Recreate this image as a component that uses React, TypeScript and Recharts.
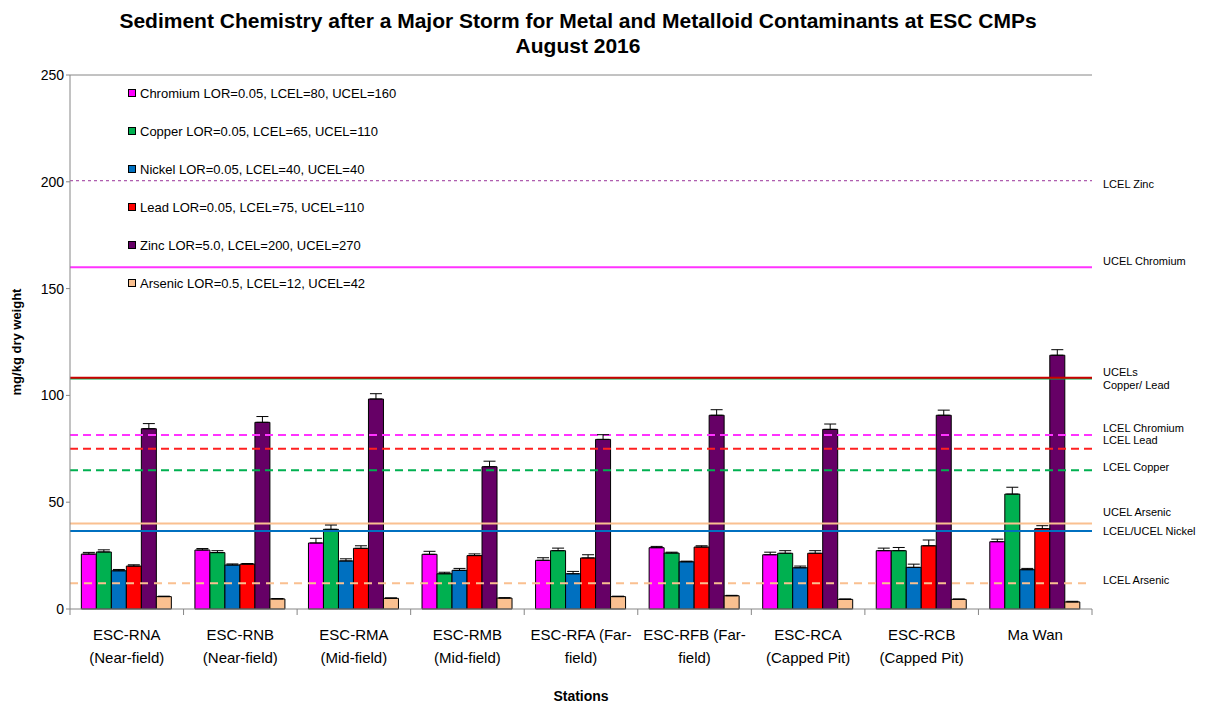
import React from 'react';
import {
  BarChart,
  Bar,
  XAxis,
  YAxis,
  ErrorBar,
  ReferenceLine,
} from 'recharts';

const stations = [
  ['ESC-RNA', '(Near-field)'],
  ['ESC-RNB', '(Near-field)'],
  ['ESC-RMA', '(Mid-field)'],
  ['ESC-RMB', '(Mid-field)'],
  ['ESC-RFA (Far-', 'field)'],
  ['ESC-RFB (Far-', 'field)'],
  ['ESC-RCA', '(Capped Pit)'],
  ['ESC-RCB', '(Capped Pit)'],
  ['Ma Wan'],
];

const chromium = [25.7, 27.6, 30.9, 25.6, 22.8, 28.7, 25.4, 27.3, 31.5];
const copper = [26.7, 26.4, 37.3, 16.5, 27.3, 26.2, 26.1, 27.3, 53.8];
const nickel = [17.9, 20.6, 22.5, 18.1, 16.5, 22.1, 19.3, 19.5, 18.4];
const lead = [20.1, 21.0, 28.4, 25.0, 23.9, 29.0, 26.1, 29.6, 37.6];
const zinc = [84.4, 87.4, 98.3, 66.6, 79.4, 90.7, 84.1, 90.7, 118.8];
const arsenic = [5.8, 4.7, 5.0, 5.1, 5.8, 6.2, 4.5, 4.5, 3.3];

const chromiumErr = [0.8, 0.7, 2.2, 1.4, 1.2, 0.6, 1.2, 1.2, 1.2];
const copperErr = [1.0, 0.9, 2.0, 0.7, 1.2, 0.4, 1.2, 1.5, 3.2];
const nickelErr = [0.6, 0.5, 1.0, 0.9, 1.1, 0.3, 0.8, 1.5, 0.6];
const leadErr = [0.6, 0.3, 1.2, 0.8, 1.5, 0.6, 1.2, 2.7, 1.4];
const zincErr = [2.4, 2.7, 2.5, 2.6, 2.2, 2.6, 2.5, 2.4, 2.6];
const arsenicErr = [0.2, 0.2, 0.2, 0.2, 0.2, 0.2, 0.2, 0.2, 0.3];

const yTicks = [0, 50, 100, 150, 200, 250];

const series = [
  { key: 'cr', name: 'Chromium LOR=0.05, LCEL=80, UCEL=160', color: '#FF00FF', values: chromium, err: chromiumErr },
  { key: 'cu', name: 'Copper LOR=0.05, LCEL=65, UCEL=110', color: '#00B050', values: copper, err: copperErr },
  { key: 'ni', name: 'Nickel LOR=0.05, LCEL=40, UCEL=40', color: '#0070C0', values: nickel, err: nickelErr },
  { key: 'pb', name: 'Lead LOR=0.05, LCEL=75, UCEL=110', color: '#FF0000', values: lead, err: leadErr },
  { key: 'zn', name: 'Zinc LOR=5.0, LCEL=200, UCEL=270', color: '#660066', values: zinc, err: zincErr },
  { key: 'as', name: 'Arsenic LOR=0.5, LCEL=12, UCEL=42', color: '#FAC090', values: arsenic, err: arsenicErr },
];

// guideline values
const guides = [
  { y: 200.5, color: '#993399', width: 1, dash: '3 3', label: ['LCEL Zinc'], dy: 4 },
  { y: 160, color: '#FF33FF', width: 2, dash: undefined, label: ['UCEL Chromium'], dy: -5 },
  { y: 107.9, color: '#00B050', width: 2, dash: undefined, label: [], dy: 0 },
  { y: 108.3, color: '#CC0000', width: 2, dash: undefined, label: ['UCELs', 'Copper/ Lead'], dy: -5 },
  { y: 81.5, color: '#FF33FF', width: 2, dash: '8 5', label: ['LCEL Chromium'], dy: -6 },
  { y: 75, color: '#FF2020', width: 2, dash: '8 5', label: ['LCEL Lead'], dy: -8 },
  { y: 65, color: '#00B050', width: 2, dash: '8 5', label: ['LCEL Copper'], dy: -2 },
  { y: 40, color: '#FAC090', width: 2, dash: undefined, label: ['UCEL Arsenic'], dy: -10 },
  { y: 36.5, color: '#0070C0', width: 2, dash: undefined, label: ['LCEL/UCEL Nickel'], dy: 1 },
  { y: 12, color: '#FAC090', width: 2, dash: '8 6', label: ['LCEL Arsenic'], dy: -2 },
];

const data = stations.map((s, i) => {
  const row: Record<string, any> = { name: s.join(' ') };
  series.forEach((sr) => {
    row[sr.key] = sr.values[i];
    row[sr.key + 'Err'] = [0, sr.err[i]];
  });
  return row;
});

const FONT = "'Liberation Sans', Arial, sans-serif";
const W = 1206;
const H = 709;
const PLOT_W = 1022;

function StationTick(props: any) {
  const { x, y, index } = props;
  const lines = stations[index] || [];
  const band = PLOT_W / stations.length;
  return (
    <g>
      <line x1={x - band / 2} x2={x - band / 2} y1={y} y2={y + 6} stroke="#868686" />
      {index === stations.length - 1 && (
        <line x1={x + band / 2} x2={x + band / 2} y1={y} y2={y + 6} stroke="#868686" />
      )}
      {lines.map((l, i) => (
        <text key={i} x={x} y={y + 31 + i * 23} textAnchor="middle" fontSize={15} fill="#000" fontFamily={FONT}>
          {l}
        </text>
      ))}
    </g>
  );
}

function rightLabel(lines: string[], dy: number) {
  return (props: any) => {
    const vb = props.viewBox || {};
    const x = (vb.x || 0) + (vb.width || 0) + 11;
    const y = (vb.y || 0) + dy;
    return (
      <g>
        {lines.map((l, i) => (
          <text key={i} x={x} y={y + i * 13} dominantBaseline="middle" fontSize={11} fill="#000" fontFamily={FONT}>
            {l}
          </text>
        ))}
      </g>
    );
  };
}

function LegendBox() {
  return (
    <div style={{ position: 'absolute', left: 128, top: 74, fontFamily: FONT, fontSize: 13, color: '#000' }}>
      {series.map((s) => (
        <div key={s.key} style={{ height: 38, display: 'flex', alignItems: 'center', whiteSpace: 'nowrap' }}>
          <span
            style={{
              display: 'inline-block',
              width: 6,
              height: 6,
              background: s.color,
              border: '1px solid #000',
              marginRight: 4,
            }}
          />
          {s.name}
        </div>
      ))}
    </div>
  );
}

export default function App() {
  return (
    <div style={{ position: 'absolute', left: 0, top: 0, width: W, height: H, background: '#fff', fontFamily: FONT }}>
      <div
        style={{
          position: 'absolute',
          left: 0,
          top: 8,
          width: 1156,
          textAlign: 'center',
          fontWeight: 'bold',
          fontSize: 21,
          lineHeight: '25px',
        }}
      >
        Sediment Chemistry after a Major Storm for Metal and Metalloid Contaminants at ESC CMPs
        <br />
        August 2016
      </div>
      <BarChart
        width={W}
        height={H}
        data={data}
        margin={{ top: 75, right: 114, bottom: 30, left: 12 }}
        barCategoryGap="10%"
        barGap={0}
      >
        <XAxis
          dataKey="name"
          height={70}
          tick={<StationTick />}
          tickLine={false}
          tickSize={0}
          tickMargin={0}
          interval={0}
          axisLine={{ stroke: '#868686' }}
          label={{ value: 'Stations', position: 'insideBottom', offset: -22, fontSize: 14, fontWeight: 'bold', fill: '#000', fontFamily: FONT }}
        />
        <YAxis
          domain={[0, 250]}
          ticks={yTicks}
          width={58}
          tickSize={4}
          tick={{ fontSize: 14, fill: '#000', fontFamily: FONT }}
          tickLine={{ stroke: '#868686' }}
          axisLine={{ stroke: '#868686' }}
          label={{ value: 'mg/kg dry weight', angle: -90, position: 'insideLeft', offset: 0, dx: 4, fontSize: 13, fontWeight: 'bold', fill: '#000', fontFamily: FONT, style: { textAnchor: 'middle' } }}
        />
        <YAxis yAxisId="r" orientation="right" width={0} tick={false} axisLine={{ stroke: '#868686' }} domain={[0, 250]} />
        <ReferenceLine y={250} stroke="#868686" />
        {guides.map((g, i) => (
          <ReferenceLine
            key={i}
            y={g.y}
            stroke={g.color}
            strokeWidth={g.width}
            strokeDasharray={g.dash}
            label={g.label.length ? rightLabel(g.label, g.dy) : undefined}
          />
        ))}
        {series.map((s) => (
          <Bar key={s.key} dataKey={s.key} name={s.name} fill={s.color} stroke="#000" strokeWidth={1} isAnimationActive={false}>
            <ErrorBar dataKey={s.key + 'Err'} width={6} stroke="#000" strokeWidth={1} />
          </Bar>
        ))}
      </BarChart>
      <LegendBox />
    </div>
  );
}
